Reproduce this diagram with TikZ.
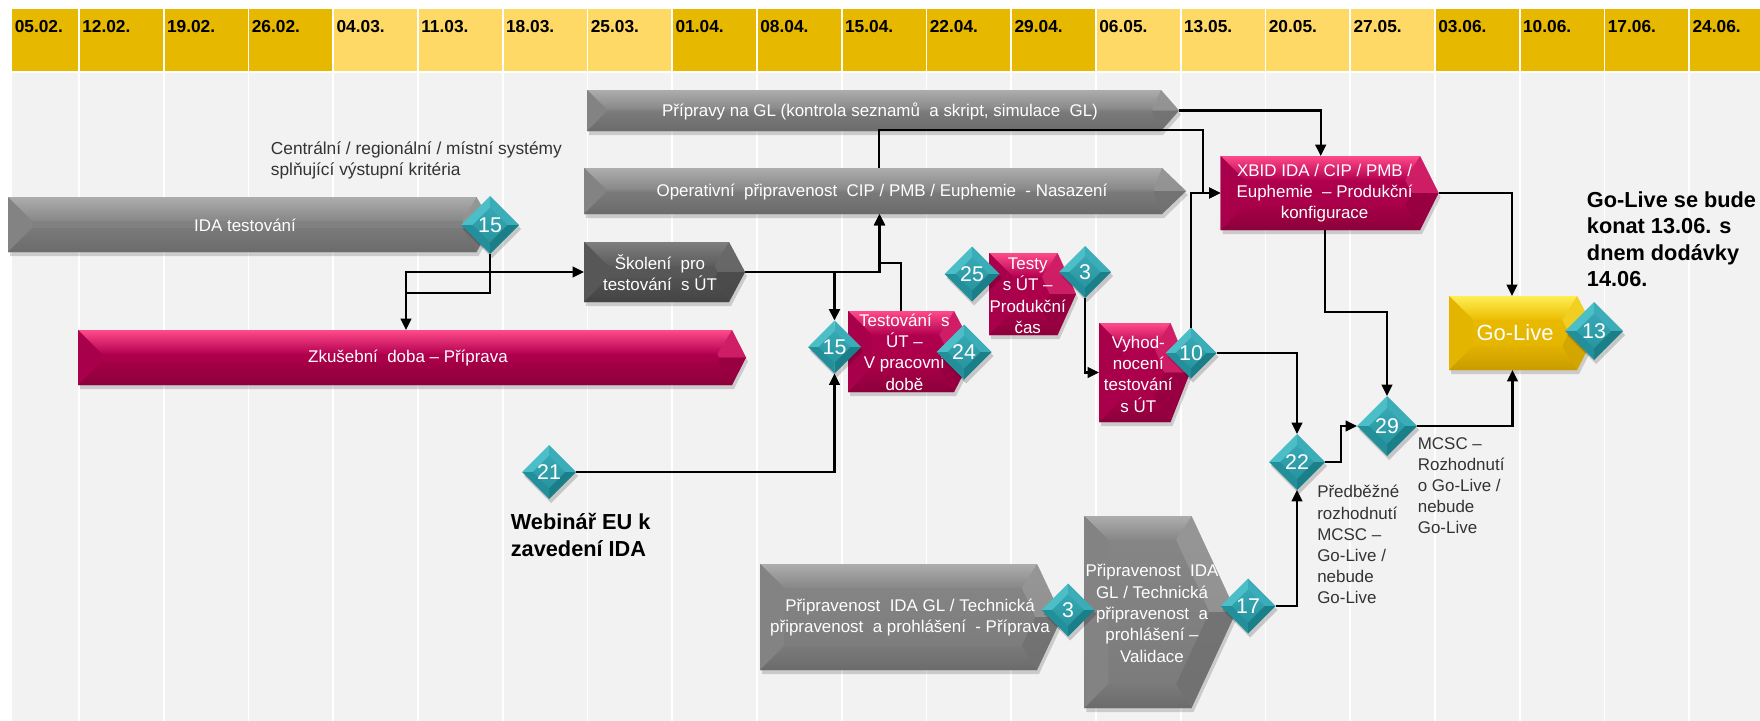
\documentclass[tikz,border=0pt]{standalone}
\usepackage{fontspec}
\setmainfont{Liberation Sans}
\usetikzlibrary{arrows.meta,shapes.geometric,fit}
\definecolor{hdD}{HTML}{E6B800}
\definecolor{hdL}{HTML}{FFD966}
\definecolor{bgc}{HTML}{F2F2F2}
\definecolor{Gb1}{HTML}{878787}
\definecolor{Gb2}{HTML}{7A7A7A}
\definecolor{Gt}{HTML}{ADADAD}
\definecolor{Gl}{HTML}{838383}
\definecolor{Gd}{HTML}{6B6B6B}
\definecolor{Kb1}{HTML}{5C5C5C}
\definecolor{Kb2}{HTML}{525252}
\definecolor{Kt}{HTML}{7E7E7E}
\definecolor{Kl}{HTML}{575757}
\definecolor{Kd}{HTML}{444444}
\definecolor{Pb1}{HTML}{B30050}
\definecolor{Pb2}{HTML}{A60047}
\definecolor{Pt}{HTML}{FF4A8A}
\definecolor{Pl}{HTML}{A8004A}
\definecolor{Pd}{HTML}{8C003B}
\definecolor{Yb1}{HTML}{EBBD00}
\definecolor{Yb2}{HTML}{E2B200}
\definecolor{Yt}{HTML}{FFEE55}
\definecolor{Yl}{HTML}{E3B500}
\definecolor{Yd}{HTML}{C89C00}
\definecolor{tA}{HTML}{4CBEC8}
\definecolor{tB}{HTML}{3AADB8}
\definecolor{tC}{HTML}{238F9A}
\definecolor{tD}{HTML}{1B7F89}
\definecolor{tT}{HTML}{36A8B3}
\definecolor{tBt}{HTML}{2895A0}
\definecolor{txt}{HTML}{333333}
% bevelled home-plate bar: name, x1, y1, x2(tip), y2, tip depth, colour prefix
\newcommand\hpbar[7]{%
\pgfmathsetmacro\ym{(#3+#5)/2}%
\pgfmathsetmacro\hh{(#5-#3)/2}%
\pgfmathsetmacro\bv{min(24,0.95*\hh)}%
\pgfmathsetmacro\LL{sqrt(#6*#6+\hh*\hh)}%
\pgfmathsetmacro\cx{#4-#6-\bv*\hh/\LL+\bv*#6*(1-#6/\LL)/\hh}%
\pgfmathsetmacro\tx{#4-#6-\bv*\hh/\LL+(\hh-\bv*#6/\LL)*#6/\hh}%
\fill[black,opacity=.16,shift={(2,4)}] (#2,#3) -- (#4-#6,#3) -- (#4,\ym) -- (#4-#6,#5) -- (#2,#5) -- cycle;
\shade[top color=#7b1,bottom color=#7b2] (#2,#3) -- (#4-#6,#3) -- (#4,\ym) -- (#4-#6,#5) -- (#2,#5) -- cycle;
\shade[top color=#7t,bottom color=#7b1] (#2,#3) -- (#4-#6,#3) -- (\cx,#3+\bv) -- (#2+\bv,#3+\bv) -- cycle;
\fill[#7l] (#2,#3) -- (#2+\bv,#3+\bv) -- (#2+\bv,#5-\bv) -- (#2,#5) -- cycle;
\shade[top color=#7b2,bottom color=#7d] (#2,#5) -- (#2+\bv,#5-\bv) -- (\cx,#5-\bv) -- (#4-#6,#5) -- cycle;
\fill[#7t,opacity=.4] (#4-#6,#3) -- (#4,\ym) -- (\tx,\ym) -- (\cx,#3+\bv) -- cycle;
\fill[#7d,opacity=.6] (#4,\ym) -- (#4-#6,#5) -- (\cx,#5-\bv) -- (\tx,\ym) -- cycle;
\node[fit={(#2,#3) (#4,#5)},inner sep=0pt,outer sep=0pt] (#1) {};
}
% bevelled diamond: name, x, y, half size, number
\newcommand\dia[5]{%
\pgfmathsetmacro\dsz{1.5*#4}%
\pgfmathsetmacro\dhi{0.6*#4}%
\fill[black,opacity=.18,shift={(2,4)}] (#2,#3-#4) -- (#2+#4,#3) -- (#2,#3+#4) -- (#2-#4,#3) -- cycle;
\fill[tA] (#2-#4,#3) -- (#2,#3-#4) -- (#2,#3) -- cycle;
\fill[tB] (#2,#3-#4) -- (#2+#4,#3) -- (#2,#3) -- cycle;
\fill[tC] (#2-#4,#3) -- (#2,#3+#4) -- (#2,#3) -- cycle;
\fill[tD] (#2,#3+#4) -- (#2+#4,#3) -- (#2,#3) -- cycle;
\shade[top color=tT,bottom color=tBt] (#2,#3-\dhi) -- (#2+\dhi,#3) -- (#2,#3+\dhi) -- (#2-\dhi,#3) -- cycle;
\node[dnum,minimum size=\dsz pt] (#1) at (#2,#3) {#5};
}
\begin{document}
\begin{tikzpicture}[x=0.75pt,y=-0.75pt,
 conn/.style={line width=1.6pt,-{Triangle[length=8.5pt,width=8pt]}},
 connb/.style={conn,line width=2.2pt},
 bartxt/.style={text=white,font=\fontsize{12.7}{16}\selectfont,align=center,inner sep=0pt},
 hdr/.style={font=\bfseries\fontsize{13}{15}\selectfont,anchor=west,inner sep=0pt},
 note/.style={text=txt,font=\fontsize{12.7}{15.8}\selectfont,align=left,anchor=west,inner sep=0pt},
 bignote/.style={text=black,font=\bfseries\fontsize{16.3}{19.8}\selectfont,align=left,anchor=west,inner sep=0pt},
 dnum/.style={diamond,aspect=1,inner sep=0pt,outer sep=0pt,text=white,font=\fontsize{16}{16}\selectfont}]
\useasboundingbox (0,0) rectangle (1760,721);
\fill[white] (0,0) rectangle (1760,721);
\fill[bgc] (11.5,72.5) rectangle (1760,721);
% header
\foreach \lab/\col [count=\i from 0] in {05.02./hdD,12.02./hdD,19.02./hdD,26.02./hdD,04.03./hdL,11.03./hdL,18.03./hdL,25.03./hdL,01.04./hdD,08.04./hdD,15.04./hdD,22.04./hdD,29.04./hdD,06.05./hdL,13.05./hdL,20.05./hdL,27.05./hdL,03.06./hdD,10.06./hdD,17.06./hdD,24.06./hdD}{
  \pgfmathsetmacro\xl{ifthenelse(\i==0,11.5,79+84.75*(\i-1))}
  \pgfmathsetmacro\xr{ifthenelse(\i==20,1760,79+84.75*\i)}
  \fill[\col] (\xl,9) rectangle (\xr,70.7);
  \node[hdr] (h\i) at (\xl+3,27) {\lab};
}
\foreach \k in {1,...,20}{
  \draw[white,line width=1.3pt] ({79+84.75*(\k-1)},9) -- ({79+84.75*(\k-1)},721);
}
% bars
\hpbar{pripravy}{587}{90}{1179}{131}{18}{G}
\hpbar{operativ}{584}{168}{1186}{214}{24}{G}
\hpbar{ida}{8}{197}{492}{252}{15.5}{G}
\hpbar{skoleni}{584}{242}{745}{302}{16}{K}
\hpbar{zk}{78}{330}{746}{385}{14}{P}
\hpbar{testovani}{848}{311}{975}{392}{21}{P}
\hpbar{testy}{989}{253}{1076}{335}{18.5}{P}
\hpbar{vyhod}{1099}{323}{1190}{422}{19.5}{P}
\hpbar{xbid}{1220.5}{156}{1438.6}{230}{18.6}{P}
\hpbar{golive}{1449}{296}{1596}{370}{19}{Y}
\hpbar{prip}{760}{564}{1062}{670}{25}{G}
\hpbar{valid}{1084.4}{516}{1236}{708}{44.5}{G}
% bar texts
\node[bartxt] (tpripravy) at (880,111.5) {Přípravy na GL (kontrola seznamů\ \ a skript, simulace\ \ GL)};
\node[bartxt] (toperativ) at (882,192.5) {Operativní\ \ připravenost\ \ CIP / PMB / Euphemie\ \ - Nasazení};
\node[bartxt] (tida) at (245,225.5) {IDA testování};
\node[bartxt] (tskoleni) at (660,272.7) {Školení\ \ pro\\testování\ \ s ÚT};
\node[bartxt] (tzk) at (408,357.7) {Zkušební\ \ doba – Příprava};
\node[bartxt] (ttestovani) at (904.4,352) {Testování\ \ s\\ÚT –\\V pracovní\\době};
\node[bartxt] (ttesty) at (1027.7,295.6) {Testy\\s ÚT –\\Produkční\\čas};
\node[bartxt] (tvyhod) at (1138.3,374) {Vyhod-\\nocení\\testování\\s ÚT};
\node[bartxt] (txbid) at (1324.6,193) {XBID IDA / CIP / PMB /\\Euphemie\ \ – Produkční\\konfigurace};
\node[bartxt,font=\fontsize{16.5}{18}\selectfont] (tgolive) at (1515,333) {Go-Live};
\node[bartxt] (tprip) at (910,617.5) {Připravenost\ \ IDA GL / Technická\\připravenost\ \ a prohlášení\ \ - Příprava};
\node[bartxt] (tvalid) at (1152,613.5) {Připravenost\ \ IDA\\GL / Technická\\připravenost\ \ a\\prohlášení –\\Validace};
% notes
\node[note,font=\fontsize{13}{15.5}\selectfont] (tcent) at (270.6,160.3) {Centrální / regionální / místní systémy\\splňující výstupní kritéria};
\node[note] (tpred) at (1317,544.5) {Předběžné\\rozhodnutí\\MCSC –\\Go-Live /\\nebude\\Go-Live};
\node[note] (tmcsc) at (1417.6,486) {MCSC –\\Rozhodnutí\\o Go-Live /\\nebude\\Go-Live};
\node[bignote] (tweb) at (510.6,535) {Webinář EU k\\zavedení IDA};
\node[bignote] (tgl) at (1586.7,239.4) {Go-Live se bude\\konat 13.06. s\\dnem dodávky\\14.06.};
% diamonds
\dia{d15a}{490}{225}{29}{15}
\dia{d15b}{834.5}{347}{26.5}{15}
\dia{d24}{964}{352}{27.5}{24}
\dia{d25}{972}{274}{27.5}{25}
\dia{d3a}{1085}{272}{26}{3}
\dia{d10}{1191}{353}{25.5}{10}
\dia{d13}{1594}{331}{29}{13}
\dia{d22}{1297}{462}{28}{22}
\dia{d29}{1387}{426}{30}{29}
\dia{d17}{1248}{606}{27.5}{17}
\dia{d21}{549}{472}{27}{21}
\dia{d3b}{1068}{610}{26.5}{3}
% connectors
\coordinate (j1) at (406,293);
\draw[conn] (d15a.south) |- (j1) -- (j1 |- zk.north);
\draw[conn] (j1) |- (skoleni.west);
\draw[connb] (skoleni.east) -| (d15b.north);
\coordinate (opin) at (879.5,214);
\draw[connb] (skoleni.east) -| (opin);
\coordinate (tvtop) at (900.6,311);
\coordinate (j3) at (879.5,263.3);
\draw[conn] (tvtop) |- (j3) -- (opin);
\coordinate (opout) at (879.3,168);
\coordinate (j4) at (1203,130);
\draw[conn] (opout) |- (j4) |- (xbid.west);
\coordinate (xbin) at (1320.7,156);
\draw[conn] (pripravy.east) -| (xbin);
\coordinate (glin) at (1512,296);
\draw[conn] (xbid.east) -| (glin);
\coordinate (xbout) at (1324.6,230);
\coordinate (j5) at (1387,311.7);
\draw[conn] (xbout) |- (j5) -- (d29.north);
\draw[conn] (d10.east) -| (d22.north);
\coordinate (j6) at (1341,462);
\draw[conn] (d22.east) -- (j6) |- (d29.west);
\coordinate (glbot) at (1512.5,370);
\draw[conn] (d29.east) -| (glbot);
\draw[conn] (d17.east) -| (d22.south);
\draw[conn] (d21.east) -| (d15b.south);
\draw[conn] (d3a.south) |- (vyhod.west);
\draw[conn] (d10.north) |- (xbid.west);
\end{tikzpicture}
\end{document}
